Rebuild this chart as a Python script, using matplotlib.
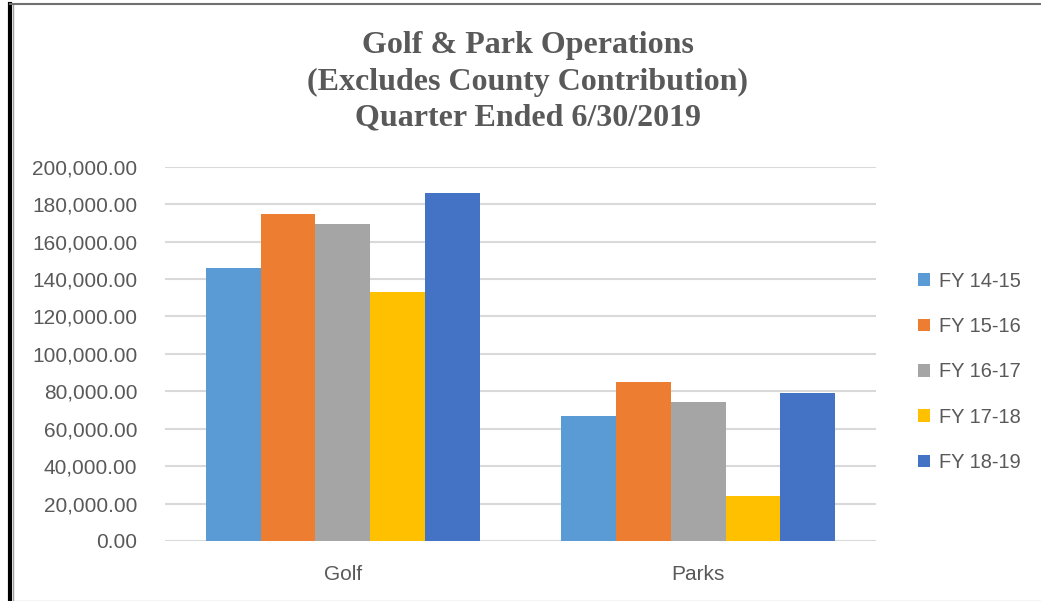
import numpy as np
import matplotlib.pyplot as plt
from matplotlib.lines import Line2D
from matplotlib.ticker import FuncFormatter

# Data
categories = ["Golf", "Parks"]
series = ["FY 14-15", "FY 15-16", "FY 16-17", "FY 17-18", "FY 18-19"]
fy1415 = [145800, 67000]
fy1516 = [174700, 84800]
fy1617 = [169200, 74300]
fy1718 = [133000, 24200]
fy1819 = [185900, 79100]
values = [fy1415, fy1516, fy1617, fy1718, fy1819]
colours = ["#5B9BD5", "#ED7D31", "#A5A5A5", "#FFC000", "#4472C4"]

txt = "#595959"

fig = plt.figure(figsize=(10.41, 6.01), dpi=100)
ax = fig.add_axes([165 / 1041, 1 - 541 / 601, (876 - 165) / 1041, (541 - 166.7) / 601])

x = np.arange(len(categories))
bw = 0.771 / len(series)
for i, (name, vals, c) in enumerate(zip(series, values, colours)):
    ax.bar(x + (i - 2) * bw, vals, width=bw, color=c, label=name, zorder=3)

ax.set_xlim(-0.5, 1.5)
ax.set_ylim(0, 200000)
ax.set_yticks(np.arange(0, 200001, 20000))
ax.yaxis.set_major_formatter(FuncFormatter(lambda v, p: f"{v:,.2f}"))
ax.set_xticks(x)
ax.set_xticklabels(categories)
ax.grid(axis="y", color="#D9D9D9", linewidth=1.5, zorder=0)
for s in ax.spines.values():
    s.set_visible(False)
ax.tick_params(length=0, labelsize=15, labelcolor=txt)
ax.tick_params(axis="y", pad=20)
ax.tick_params(axis="x", pad=17)
for lab in ax.get_xticklabels() + ax.get_yticklabels():
    lab.set_fontfamily("Liberation Sans")

title_lines = ["Golf & Park Operations", "(Excludes County Contribution)", "Quarter Ended 6/30/2019"]
for k, line in enumerate(title_lines):
    fig.text(0.507, 1 - (46 + 36 * k) / 601, line, ha="center", va="center",
             fontsize=23, fontweight="bold", color=txt, family="Liberation Serif")

leg = ax.legend(loc="center left", bbox_to_anchor=(1.034, 0.452), frameon=False,
                handlelength=0.6, handleheight=0.6, handletextpad=0.45,
                labelspacing=1.32, prop={"family": "Liberation Sans", "size": 14.4})
for t in leg.get_texts():
    t.set_color(txt)

# frame lines around the chart image
fig.add_artist(Line2D([10 / 1041, 10 / 1041], [0, 1 - 4 / 601], color="black", linewidth=3))
fig.add_artist(Line2D([12.5 / 1041, 12.5 / 1041], [0, 1 - 5 / 601], color="#A0A0A0", linewidth=1))
fig.add_artist(Line2D([10 / 1041, 1], [1 - 4 / 601, 1 - 4 / 601], color="#707070", linewidth=1.5))
fig.add_artist(Line2D([12 / 1041, 1], [0.5 / 601, 0.5 / 601], color="#C8C8C8", linewidth=1))

fig.savefig("out.png", dpi=100)
